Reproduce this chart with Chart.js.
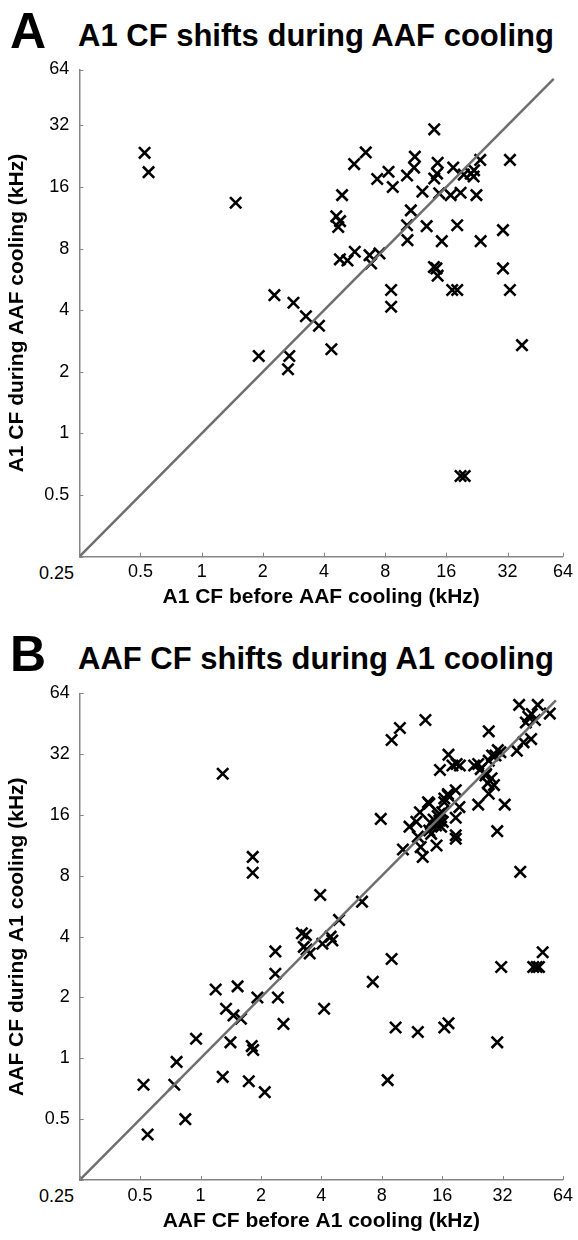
<!DOCTYPE html>
<html><head><meta charset="utf-8">
<script src="https://cdn.jsdelivr.net/npm/chart.js@4.4.1/dist/chart.umd.min.js"></script>
<style>
body{margin:0;background:#fff;width:578px;height:1240px;position:relative;overflow:hidden;font-family:"Liberation Sans",Arial,Helvetica,sans-serif;}
.wrap{position:absolute;left:0;width:578px;}
.t{position:absolute;font-weight:bold;color:#000;white-space:nowrap;line-height:1;}
.n{position:absolute;color:#000;white-space:nowrap;line-height:1;font-size:18px;}
canvas{display:block;}
</style></head><body>
<div class="t" style="left:10px;top:6px;font-size:50px">A</div>
<div class="t" style="left:78px;top:20px;font-size:31px">A1 CF shifts during AAF cooling</div>
<div class="n" style="left:39px;top:564px">0.25</div>
<div class="wrap" style="top:0;height:620px"><canvas id="cA" width="578" height="620"></canvas></div>

<div class="t" style="left:10px;top:629px;font-size:50px">B</div>
<div class="t" style="left:78px;top:643px;font-size:31px">AAF CF shifts during A1 cooling</div>
<div class="n" style="left:39px;top:1187px">0.25</div>
<div class="wrap" style="top:620px;height:620px"><canvas id="cB" width="578" height="620"></canvas></div>

<script>
// ---- Data (kHz) ----
const tickValsA = [0.25, 0.5, 1, 2, 4, 8, 16, 32, 60];
const tickValsB = [0.25, 0.5, 1, 2, 4, 8, 16, 32, 64];
const tickLabels = ['', '0.5', '1', '2', '4', '8', '16', '32', '64'];

// Panel A: A1 CF before vs during AAF cooling
const a1Before = [0.524,0.548,1.47,2.28,2.83,3.26,3.78,4.35,1.91,2.70,2.66,37.7,18.8,19.7,
  13.95,6.42,5.63,11.2,11.1,14.5,14.4,32.9,23.5,8.31,7.31,8.72,10.25,13.95,17.3,19.5,21.1,21.9,21.8,
  12.2,14.75,16.8,18.8,22.5,4.91,4.6,4.8,4.7,10.7,10.25,10.3,12.8,18.1,30.4,15.2,23.6,
  4.79,5.22,5.67,6.7,6.82,7.5,13.9,14.3,14.5,30.4,8.56,8.56,17.1,18.1,32.9];
const a1During = [23.5,18.9,13.4,4.74,4.35,3.74,3.36,2.58,2.39,2.39,2.06,2.70,0.62,0.62,
  30.6,23.6,20.7,22.5,19.9,21.0,18.6,21.7,21.7,19.0,17.5,16.0,18.2,17.6,19.9,18.4,18.6,19.3,18.0,
  15.2,14.9,14.6,15.0,14.6,14.6,11.5,10.9,10.2,12.3,10.4,8.8,10.3,10.4,9.85,8.7,8.7,
  7.09,7.0,7.72,7.43,6.77,7.58,6.5,6.4,5.9,6.4,5.02,4.16,5.02,5.02,5.02];

// Panel B: AAF CF before vs during A1 cooling
const aafBefore = [1.29,1.82,1.82,3.95,3.2,3.35,3.27,3.38,3.5,4.9,4.45,6.38,4.05,4.54,4.13,
  2.36,2.36,1.19,1.53,1.92,2.43,1.34,1.46,1.59,2.59,0.95,1.41,1.8,1.83,0.76,0.52,0.74,1.29,1.74,2.09,0.84,0.545,
  8.96,7.22,9.38,12.1,16.4,17.2,8.56,30.1,31.5,45.5,47.3,48.6,50.7,
  38.7,47.9,55.0,43.0,46.4,41.8,44.7,44.4,40.7,37.7,27.3,13.2,9.85,8.96,17.2,15.6,18.0,19.6,23.1,24.9,
  29.5,31.2,27.3,26.5,28.2,27.0,29.0,27.3,24.2,32.8,30.1,39.2,7.91,18.9,24.2,28.4,26.3,
  13.6,17.1,18.7,16.4,12.4,19.5,15.5,16.1,14.9,18.7,11.0,11.9,13.8,18.7,18.7,15.0,12.8,12.5,10.2,12.1,14.1,
  15.5,16.4,17.1,13.8,14.5,15.2,16.0,14.0,15.8,30.3];
const aafDuring = [25.6,9.92,8.28,6.43,4.16,4.07,3.56,3.45,3.3,4.84,4.0,5.96,3.69,3.83,1.76,
  3.38,2.62,2.19,2.27,2.0,2.0,1.76,1.63,1.57,1.48,1.25,1.2,1.15,1.1,0.96,0.74,0.74,0.81,0.77,0.68,0.5,0.42,
  3.1,2.39,1.42,1.35,1.42,1.49,0.78,1.2,2.83,2.83,2.83,2.83,3.35,
  56.1,56.1,50.8,49.0,47.2,45.9,50.5,38.0,36.6,33.3,41.5,47.2,43.1,37.6,31.8,26.7,28.1,28.1,28.1,27.0,
  31.5,32.7,29.7,25.5,24.3,23.0,22.5,20.4,18.0,18.0,13.3,8.37,15.3,28.6,28.6,31.5,25.1,
  18.5,20.0,21.2,18.5,16.5,17.5,16.2,14.8,14.2,15.5,14.0,14.8,13.4,12.7,12.2,11.3,9.92,11.1,10.8,12.5,12.9,
  15.0,19.3,20.3,18.2,15.2,15.8,16.5,14.6,14.0,33.5];

// unity reference lines
const diagA = [0.25, 54];
const diagB = [0.25, 59];

const FONT = '"Liberation Sans", Arial, Helvetica, sans-serif';
const AXIS_COLOR = '#858585';

const innerTicks = {
  id: 'innerTicks',
  afterDraw(chart) {
    const {ctx, chartArea: a, scales: {x, y}} = chart;
    ctx.save();
    ctx.strokeStyle = AXIS_COLOR;
    ctx.lineWidth = 1;
    x.ticks.forEach(t => {
      const px = Math.round(x.getPixelForValue(t.value)) + 0.5;
      ctx.beginPath(); ctx.moveTo(px, a.bottom); ctx.lineTo(px, a.bottom - 4); ctx.stroke();
    });
    y.ticks.forEach(t => {
      const py = Math.round(y.getPixelForValue(t.value)) + 0.5;
      ctx.beginPath(); ctx.moveTo(a.left, py); ctx.lineTo(a.left + 4, py); ctx.stroke();
    });
    ctx.restore();
  }
};

function makeChart(id, before, during, diag, tickVals, max, cfg) {
  const pts = before.map((v, i) => ({x: v, y: during[i]}));
  const line = diag.map(v => ({x: v, y: v}));
  const axisBase = (title, isX) => ({
    type: 'logarithmic',
    min: 0.25,
    max: max,
    afterBuildTicks: s => { s.ticks = tickVals.map(v => ({value: v})); },
    afterFit: s => { if (isX) s.height = cfg.xH; else s.width = cfg.yW; },
    grid: {display: false, drawTicks: false},
    border: {display: true, color: AXIS_COLOR, width: 1.5},
    ticks: {
      autoSkip: false, maxRotation: 0, minRotation: 0,
      color: '#000',
      font: {family: FONT, size: 18},
      padding: isX ? 5 : 10,
      callback: (v, i) => tickLabels[i]
    },
    title: {
      display: true, text: title, color: '#000',
      font: {family: FONT, size: 21, weight: 'bold'},
      padding: isX ? {top: 0, bottom: cfg.xTitlePad} : {top: 5, bottom: 0}
    }
  });
  return new Chart(document.getElementById(id), {
    type: 'scatter',
    data: {
      datasets: [
        {type: 'line', data: line, borderColor: '#6e6e6e', borderWidth: 2.5, pointRadius: 0, fill: false},
        {data: pts, pointStyle: 'crossRot', pointRadius: 8, pointHoverRadius: 8,
         borderColor: '#000', backgroundColor: '#000', pointBorderWidth: 2.6, borderWidth: 2.6}
      ]
    },
    options: {
      responsive: false, animation: false, devicePixelRatio: 1,
      layout: {padding: cfg.pad},
      plugins: {legend: {display: false}, tooltip: {enabled: false}, title: {display: false}},
      scales: {
        x: axisBase(cfg.xTitle, true),
        y: axisBase(cfg.yTitle, false)
      }
    },
    plugins: [innerTicks]
  });
}

makeChart('cA', a1Before, a1During, diagA, tickValsA, 60, {
  pad: {top: 69.5, right: 13, bottom: 0, left: 0}, xH: 63.3, yW: 79.3, xTitlePad: 10,
  xTitle: 'A1 CF before AAF cooling (kHz)', yTitle: 'A1 CF during AAF cooling (kHz)'
});
makeChart('cB', aafBefore, aafDuring, diagB, tickValsB, 64, {
  pad: {top: 73.3, right: 11.3, bottom: 0, left: 0}, xH: 60, yW: 79.7, xTitlePad: 6.4,
  xTitle: 'AAF CF before A1 cooling (kHz)', yTitle: 'AAF CF during A1 cooling (kHz)'
});
</script>
</body></html>
